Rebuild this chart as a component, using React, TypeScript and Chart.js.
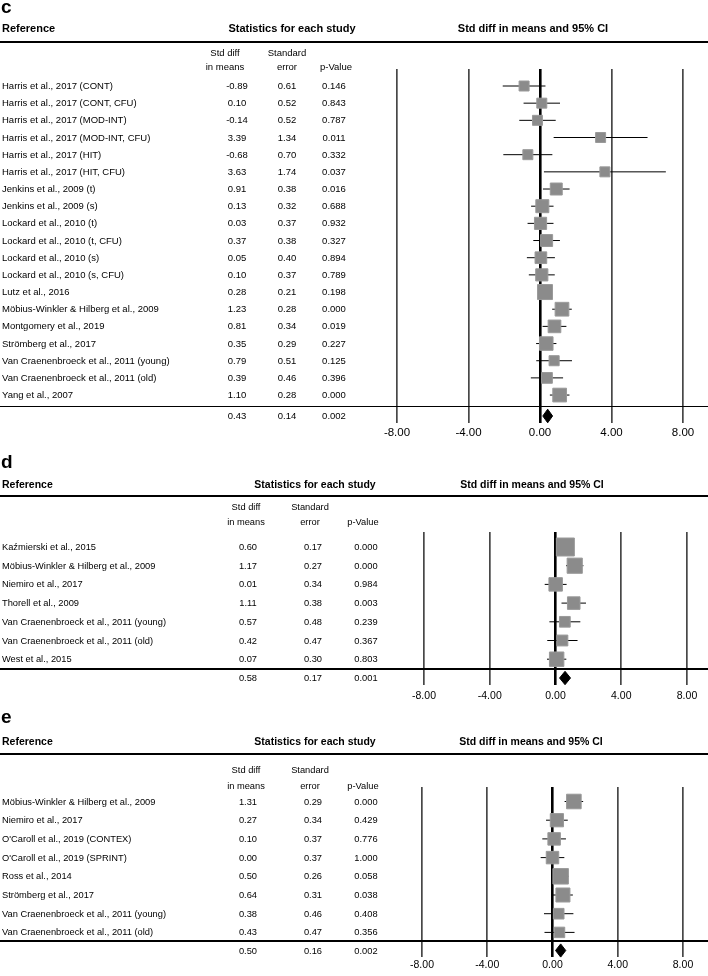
import React, { useEffect, useRef } from "react";
import { Chart, registerables } from "chart.js";

Chart.register(...registerables);

const FONT = '"Liberation Sans", Arial, Helvetica, sans-serif';

// ---------- Panel c data ----------
const cStudies = [
  "Harris et al., 2017 (CONT)",
  "Harris et al., 2017 (CONT, CFU)",
  "Harris et al., 2017 (MOD-INT)",
  "Harris et al., 2017 (MOD-INT, CFU)",
  "Harris et al., 2017 (HIT)",
  "Harris et al., 2017 (HIT, CFU)",
  "Jenkins et al., 2009 (t)",
  "Jenkins et al., 2009 (s)",
  "Lockard et al., 2010 (t)",
  "Lockard et al., 2010 (t, CFU)",
  "Lockard et al., 2010 (s)",
  "Lockard et al., 2010 (s, CFU)",
  "Lutz et al., 2016",
  "Möbius-Winkler & Hilberg et al., 2009",
  "Montgomery et al., 2019",
  "Strömberg et al., 2017",
  "Van Craenenbroeck et al., 2011 (young)",
  "Van Craenenbroeck et al., 2011 (old)",
  "Yang et al., 2007",
];
const cMeans = [-0.89, 0.1, -0.14, 3.39, -0.68, 3.63, 0.91, 0.13, 0.03, 0.37, 0.05, 0.1, 0.28, 1.23, 0.81, 0.35, 0.79, 0.39, 1.1];
const cSE = [0.61, 0.52, 0.52, 1.34, 0.7, 1.74, 0.38, 0.32, 0.37, 0.38, 0.4, 0.37, 0.21, 0.28, 0.34, 0.29, 0.51, 0.46, 0.28];
const cP = [0.146, 0.843, 0.787, 0.011, 0.332, 0.037, 0.016, 0.688, 0.932, 0.327, 0.894, 0.789, 0.198, 0.0, 0.019, 0.227, 0.125, 0.396, 0.0];
const cSummary = [0.43, 0.14, 0.002];

// ---------- Panel d data ----------
const dStudies = [
  "Kaźmierski et al., 2015",
  "Möbius-Winkler & Hilberg et al., 2009",
  "Niemiro et al., 2017",
  "Thorell et al., 2009",
  "Van Craenenbroeck et al., 2011 (young)",
  "Van Craenenbroeck et al., 2011 (old)",
  "West et al., 2015",
];
const dMeans = [0.6, 1.17, 0.01, 1.11, 0.57, 0.42, 0.07];
const dSE = [0.17, 0.27, 0.34, 0.38, 0.48, 0.47, 0.3];
const dP = [0.0, 0.0, 0.984, 0.003, 0.239, 0.367, 0.803];
const dSummary = [0.58, 0.17, 0.001];

// ---------- Panel e data ----------
const eStudies = [
  "Möbius-Winkler & Hilberg et al., 2009",
  "Niemiro et al., 2017",
  "O'Caroll et al., 2019 (CONTEX)",
  "O'Caroll et al., 2019 (SPRINT)",
  "Ross et al., 2014",
  "Strömberg et al., 2017",
  "Van Craenenbroeck et al., 2011 (young)",
  "Van Craenenbroeck et al., 2011 (old)",
];
const eMeans = [1.31, 0.27, 0.1, 0.0, 0.5, 0.64, 0.38, 0.43];
const eSE = [0.29, 0.34, 0.37, 0.37, 0.26, 0.31, 0.46, 0.47];
const eP = [0.0, 0.429, 0.776, 1.0, 0.058, 0.038, 0.408, 0.356];
const eSummary = [0.5, 0.16, 0.002];

// ---------- shared axis ----------
const xTicks = [-8, -4, 0, 4, 8];
const xMin = -8;
const xMax = 8;

type Layout = {
  label: string;
  canvasTop: number;
  canvasH: number;
  plotLeft: number;
  plotRight: number;
  gridTop: number;
  gridBottom: number;
  rowY0: number;
  rowStep: number;
  summaryLineY: number;
  summaryY: number;
  tickY: number;
  tickSize: number;
  diamondHalf: number;
  labelBase: number;
  headY: number;
  headLineY: number;
  sub1Y: number;
  sub2Y: number;
  headSize: number;
  bodySize: number;
  hdrCols: number[];
  valCols: number[];
  statsX: number;
  ciX: number;
  refSe: number;
  refSide: number;
  tau2: number;
  minSide: number;
};

const layoutC: Layout = {
  label: "c", canvasTop: 0, canvasH: 450, plotLeft: 397, plotRight: 683,
  gridTop: 69, gridBottom: 423, rowY0: 86, rowStep: 17.17,
  summaryLineY: 406.7, summaryY: 416, tickY: 433, tickSize: 11.5, diamondHalf: 6.8,
  labelBase: 13, headY: 28, headLineY: 42, sub1Y: 53, sub2Y: 67, headSize: 11, bodySize: 9.5,
  hdrCols: [225, 287, 336], valCols: [237, 287, 334], statsX: 292, ciX: 533,
  refSe: 0.21, refSide: 15, tau2: 0.134, minSide: 10,
};
const layoutD: Layout = {
  label: "d", canvasTop: 450, canvasH: 255, plotLeft: 424, plotRight: 687,
  gridTop: 532, gridBottom: 685, rowY0: 547, rowStep: 18.7,
  summaryLineY: 669, summaryY: 678, tickY: 696, tickSize: 10.5, diamondHalf: 6.7,
  labelBase: 468, headY: 484, headLineY: 496, sub1Y: 507, sub2Y: 522, headSize: 10.5, bodySize: 9.3,
  hdrCols: [246, 310, 363], valCols: [248, 313, 366], statsX: 315, ciX: 532,
  refSe: 0.17, refSide: 18, tau2: 0.081, minSide: 10,
};
const layoutE: Layout = {
  label: "e", canvasTop: 705, canvasH: 271, plotLeft: 422, plotRight: 683,
  gridTop: 787, gridBottom: 957, rowY0: 801.5, rowStep: 18.7,
  summaryLineY: 941, summaryY: 950.5, tickY: 965, tickSize: 10.5, diamondHalf: 6.6,
  labelBase: 723, headY: 741, headLineY: 754, sub1Y: 770, sub2Y: 786, headSize: 10.5, bodySize: 9.3,
  hdrCols: [246, 310, 363], valCols: [248, 313, 366], statsX: 315, ciX: 531,
  refSe: 0.26, refSide: 15.5, tau2: 0.061, minSide: 10,
};

const W = 708;

function Txt(props: { x: number; y: number; text: string; align?: "left" | "center" | "right"; size: number; bold?: boolean }) {
  const { x, y, text, align = "left", size, bold = false } = props;
  const L = Math.round(size * 1.3);
  const style: React.CSSProperties = {
    position: "absolute",
    top: y - L / 2,
    height: L,
    lineHeight: L + "px",
    fontSize: size,
    fontWeight: bold ? 700 : 400,
    whiteSpace: "nowrap",
    color: "#000",
    fontFamily: FONT,
  };
  if (align === "left") style.left = x;
  else if (align === "center") {
    style.left = x - 200;
    style.width = 400;
    style.textAlign = "center";
  } else {
    style.right = W - x;
    style.textAlign = "right";
  }
  return <div style={style}>{text}</div>;
}

function HLine(props: { y: number; h: number }) {
  return (
    <div
      style={{ position: "absolute", left: 0, width: W, top: props.y - props.h / 2, height: props.h, background: "#000" }}
    />
  );
}

function ForestPanel(props: {
  studies: string[];
  means: number[];
  se: number[];
  pvals: number[];
  summary: number[];
  L: Layout;
}) {
  const { studies, means, se, pvals, summary, L } = props;
  const ref = useRef<HTMLCanvasElement | null>(null);

  useEffect(() => {
    const canvas = ref.current;
    if (!canvas) return;
    const yOf = (py: number) => (py - L.rowY0) / L.rowStep;
    const side = (s: number) =>
      Math.max(L.minSide, L.refSide * Math.sqrt((L.refSe * L.refSe + L.tau2) / (s * s + L.tau2)));

    const ciSets = means.map((m, i) => ({
      data: [
        { x: m - 1.96 * se[i], y: i },
        { x: m + 1.96 * se[i], y: i },
      ],
      showLine: true,
      borderColor: "#000",
      borderWidth: 1,
      pointRadius: 0,
      order: 2,
      clip: false as any,
    }));

    const squares = {
      data: means.map((m, i) => ({ x: m, y: i })),
      showLine: false,
      pointStyle: "rect",
      pointRadius: se.map((s) => side(s) / Math.SQRT2),
      backgroundColor: "#8b8b8b",
      borderColor: "#9a9a9a",
      borderWidth: 1,
      order: 1,
      clip: false as any,
    };

    const sy = yOf(L.summaryY);
    const hh = L.diamondHalf / L.rowStep;
    const lo = summary[0] - 1.96 * summary[1];
    const hi = summary[0] + 1.96 * summary[1];
    const diamond = {
      data: [
        { x: lo, y: sy },
        { x: summary[0], y: sy - hh },
        { x: hi, y: sy },
        { x: summary[0], y: sy + hh },
        { x: lo, y: sy },
      ],
      showLine: true,
      fill: "shape",
      backgroundColor: "#000",
      borderColor: "#000",
      borderWidth: 1,
      pointRadius: 0,
      tension: 0,
      order: 0,
      clip: false as any,
    };

    const tickLineH = L.tickSize * 1.2;
    const chart = new Chart(canvas, {
      type: "scatter",
      data: { datasets: [diamond, squares, ...ciSets] as any },
      options: {
        responsive: false,
        maintainAspectRatio: false,
        animation: false,
        events: [],
        layout: {
          padding: {
            left: L.plotLeft,
            right: W - L.plotRight,
            top: L.gridTop - L.canvasTop,
            bottom: 0,
          },
        },
        plugins: {
          legend: { display: false },
          tooltip: { enabled: false },
          title: { display: false },
        },
        scales: {
          x: {
            type: "linear",
            min: xMin,
            max: xMax,
            afterBuildTicks: (s: any) => {
              s.ticks = xTicks.map((v) => ({ value: v }));
            },
            afterFit: (s: any) => {
              s.height = L.canvasTop + L.canvasH - L.gridBottom;
            },
            border: { display: false },
            grid: {
              drawTicks: false,
              color: (ctx: any) => (ctx.tick && ctx.tick.value === 0 ? "#000" : "#474747"),
              lineWidth: (ctx: any) => (ctx.tick && ctx.tick.value === 0 ? 2.6 : 1.7),
            },
            ticks: {
              autoSkip: false,
              maxRotation: 0,
              padding: L.tickY - L.gridBottom - tickLineH / 2,
              color: "#000",
              font: { family: FONT, size: L.tickSize },
              callback: (v: any) => Number(v).toFixed(2),
            },
          },
          y: {
            type: "linear",
            display: false,
            reverse: true,
            min: yOf(L.gridTop),
            max: yOf(L.gridBottom),
          },
        },
      } as any,
    });
    return () => {
      chart.destroy();
    };
  }, []);

  const labelSize = 19;
  return (
    <>
      <canvas
        ref={ref}
        width={W}
        height={L.canvasH}
        style={{ position: "absolute", left: 0, top: L.canvasTop, width: W, height: L.canvasH }}
      />
      <div
        style={{
          position: "absolute",
          left: 1,
          top: L.labelBase - 0.8465 * labelSize,
          fontSize: labelSize,
          lineHeight: labelSize + "px",
          fontWeight: 700,
          fontFamily: FONT,
        }}
      >
        {L.label}
      </div>
      <Txt x={2} y={L.headY} text="Reference" size={L.headSize} bold />
      <Txt x={L.statsX} y={L.headY} text="Statistics for each study" size={L.headSize} bold align="center" />
      <Txt x={L.ciX} y={L.headY} text="Std diff in means and 95% CI" size={L.headSize} bold align="center" />
      <HLine y={L.headLineY} h={2.2} />
      <Txt x={L.hdrCols[0]} y={L.sub1Y} text="Std diff" size={L.bodySize} align="center" />
      <Txt x={L.hdrCols[0]} y={L.sub2Y} text="in means" size={L.bodySize} align="center" />
      <Txt x={L.hdrCols[1]} y={L.sub1Y} text="Standard" size={L.bodySize} align="center" />
      <Txt x={L.hdrCols[1]} y={L.sub2Y} text="error" size={L.bodySize} align="center" />
      <Txt x={L.hdrCols[2]} y={L.sub2Y} text="p-Value" size={L.bodySize} align="center" />
      {studies.map((s, i) => {
        const y = L.rowY0 + i * L.rowStep;
        return (
          <React.Fragment key={s + i}>
            <Txt x={2} y={y} text={s} size={L.bodySize} />
            <Txt x={L.valCols[0]} y={y} text={means[i].toFixed(2)} size={L.bodySize} align="center" />
            <Txt x={L.valCols[1]} y={y} text={se[i].toFixed(2)} size={L.bodySize} align="center" />
            <Txt x={L.valCols[2]} y={y} text={pvals[i].toFixed(3)} size={L.bodySize} align="center" />
          </React.Fragment>
        );
      })}
      <HLine y={L.summaryLineY} h={1.6} />
      <Txt x={L.valCols[0]} y={L.summaryY} text={summary[0].toFixed(2)} size={L.bodySize} align="center" />
      <Txt x={L.valCols[1]} y={L.summaryY} text={summary[1].toFixed(2)} size={L.bodySize} align="center" />
      <Txt x={L.valCols[2]} y={L.summaryY} text={summary[2].toFixed(3)} size={L.bodySize} align="center" />
    </>
  );
}

export default function App() {
  return (
    <div
      style={{
        position: "absolute",
        left: 0,
        top: 0,
        width: W,
        height: 976,
        background: "#fff",
        overflow: "hidden",
        fontFamily: FONT,
      }}
    >
      <ForestPanel studies={cStudies} means={cMeans} se={cSE} pvals={cP} summary={cSummary} L={layoutC} />
      <ForestPanel studies={dStudies} means={dMeans} se={dSE} pvals={dP} summary={dSummary} L={layoutD} />
      <ForestPanel studies={eStudies} means={eMeans} se={eSE} pvals={eP} summary={eSummary} L={layoutE} />
    </div>
  );
}
